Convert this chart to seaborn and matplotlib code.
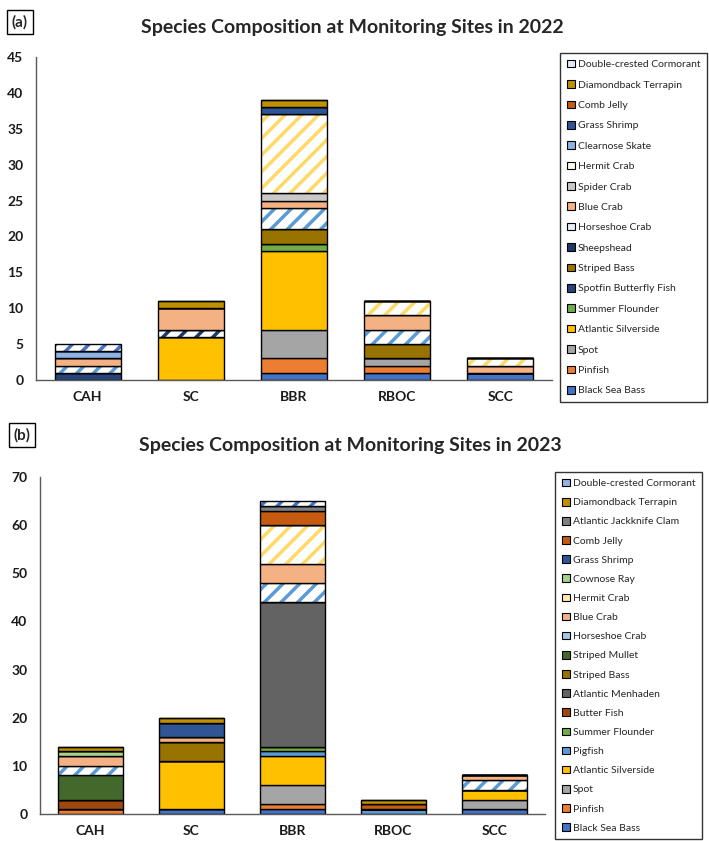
import matplotlib
matplotlib.use("Agg")
import numpy as np
import matplotlib.pyplot as plt
from matplotlib.patches import Patch
from matplotlib.colors import to_rgb
import seaborn as sns

sites = ["CAH", "SC", "BBR", "RBOC", "SCC"]

# 2022 species, bottom of the stack first
species_2022 = ["Black Sea Bass", "Pinfish", "Spot", "Atlantic Silverside", "Summer Flounder",
                "Spotfin Butterfly Fish", "Striped Bass", "Sheepshead", "Horseshoe Crab",
                "Blue Crab", "Spider Crab", "Hermit Crab", "Clearnose Skate", "Grass Shrimp",
                "Comb Jelly", "Diamondback Terrapin", "Double-crested Cormorant"]
cah_2022 = [0, 0, 0, 0, 0, 1, 0, 0, 1, 1, 0, 0, 1, 0, 0, 0, 1]
sc_2022 = [0, 0, 0, 6, 0, 0, 0, 1, 0, 3, 0, 0, 0, 0, 0, 1, 0]
bbr_2022 = [1, 2, 4, 11, 1, 0, 2, 0, 3, 1, 1, 11, 0, 1, 0, 1, 0]
rboc_2022 = [1, 1, 1, 0, 0, 0, 2, 0, 2, 2, 0, 2, 0, 0, 0, 0, 0]
scc_2022 = [1, 0, 0, 0, 0, 0, 0, 0, 0, 1, 0, 1, 0, 0, 0, 0, 0]

# 2023 species, bottom of the stack first
species_2023 = ["Black Sea Bass", "Pinfish", "Spot", "Atlantic Silverside", "Pigfish",
                "Summer Flounder", "Butter Fish", "Atlantic Menhaden", "Striped Bass",
                "Striped Mullet", "Horseshoe Crab", "Blue Crab", "Hermit Crab", "Cownose Ray",
                "Grass Shrimp", "Comb Jelly", "Atlantic Jackknife Clam", "Diamondback Terrapin",
                "Double-crested Cormorant"]
cah_2023 = [0, 1, 0, 0, 0, 0, 2, 0, 0, 5, 2, 2, 0, 1, 0, 0, 0, 1, 0]
sc_2023 = [1, 0, 0, 10, 0, 0, 0, 0, 4, 0, 0, 1, 0, 0, 3, 0, 0, 1, 0]
bbr_2023 = [1, 1, 4, 6, 1, 1, 0, 30, 0, 0, 4, 4, 8, 0, 0, 3, 1, 0, 1]
rboc_2023 = [0, 0, 0, 0, 1, 0, 0, 0, 0, 0, 0, 0, 0, 0, 0, 1, 0, 1, 0]
scc_2023 = [1, 0, 2, 2, 0, 0, 0, 0, 0, 0, 2, 1, 0, 0, 0, 0, 0, 0, 0]

colors = {
    "Black Sea Bass": "#4472C4", "Pinfish": "#ED7D31", "Spot": "#A5A5A5",
    "Atlantic Silverside": "#FFC000", "Summer Flounder": "#70AD47",
    "Spotfin Butterfly Fish": "#264478", "Striped Bass": "#997300",
    "Sheepshead": "#1F3864", "Horseshoe Crab": "#5B9BD5", "Blue Crab": "#F4B183",
    "Spider Crab": "#C9C9C9", "Hermit Crab": "#FFD966", "Clearnose Skate": "#8FB4E3",
    "Grass Shrimp": "#2F5597", "Comb Jelly": "#C55A11", "Diamondback Terrapin": "#BF9000",
    "Double-crested Cormorant": "#4472C4", "Pigfish": "#5B9BD5", "Butter Fish": "#9E480E",
    "Atlantic Menhaden": "#636363", "Striped Mullet": "#43682B", "Cownose Ray": "#A9D18E",
    "Atlantic Jackknife Clam": "#7F7F7F",
}
hatched = ["Sheepshead", "Horseshoe Crab", "Hermit Crab", "Double-crested Cormorant"]

sns.set_style("white")
plt.rcParams["font.family"] = ["Lato", "DejaVu Sans"]
plt.rcParams["hatch.linewidth"] = 2.5

W, H = 709, 841
fig = plt.figure(figsize=(W / 100, H / 100), dpi=100)


def px_axes(left, top, right, bottom):
    return fig.add_axes([left / W, 1 - bottom / H, (right - left) / W, (bottom - top) / H])


def tint(c, f):
    r = np.array(to_rgb(c))
    return tuple(r + (1 - r) * f)


def draw_panel(ax, species, columns, ymax, ystep):
    data = np.array(columns).T
    bottom = np.zeros(len(sites))
    for name, vals in zip(species, data):
        if name in hatched:
            # coloured stripes on white, then a black outline on top
            sns.barplot(x=sites, y=vals, order=sites, bottom=bottom, color="white", saturation=1,
                        width=0.64, hatch="//", edgecolor=colors[name], linewidth=0,
                        errorbar=None, ax=ax)
            sns.barplot(x=sites, y=vals, order=sites, bottom=bottom, color="black", saturation=1,
                        facecolor="none", width=0.64, edgecolor="black", linewidth=1,
                        errorbar=None, ax=ax)
        else:
            sns.barplot(x=sites, y=vals, order=sites, bottom=bottom, color=colors[name],
                        saturation=1, width=0.64, edgecolor="black", linewidth=1,
                        errorbar=None, ax=ax)
        bottom = bottom + vals
    ax.set_xlim(-0.5, len(sites) - 0.5)
    ax.set_ylim(0, ymax)
    ax.set_yticks(np.arange(0, ymax + 1, ystep))
    ax.set_xlabel("")
    ax.set_ylabel("")
    for s in ["top", "right"]:
        ax.spines[s].set_visible(False)
    for s in ["left", "bottom"]:
        ax.spines[s].set_color("#595959")
        ax.spines[s].set_linewidth(1)
    ax.tick_params(axis="both", length=0, labelsize=10, colors="#1a1a1a")
    ax.tick_params(axis="y", pad=9)
    ax.tick_params(axis="x", pad=8)
    for lab in ax.get_xticklabels() + ax.get_yticklabels():
        lab.set_fontweight("bold")


def add_legend(species, left, top, spacing, light):
    handles = []
    for name in species[::-1]:
        face = colors[name]
        if name in hatched and name != "Sheepshead":
            face = tint(colors[name], light)
        handles.append(Patch(facecolor=face, edgecolor="black", linewidth=0.8, label=name))
    leg = fig.legend(handles=handles, loc="upper left", bbox_to_anchor=(left / W, 1 - top / H),
                     frameon=True, fancybox=False, edgecolor="black", fontsize=7.5,
                     handlelength=0.75, handleheight=0.75, handletextpad=0.3,
                     labelspacing=spacing, borderpad=0.65, borderaxespad=0)
    leg.get_frame().set_linewidth(1)


ax1 = px_axes(36, 57, 552, 380)
draw_panel(ax1, species_2022, [cah_2022, sc_2022, bbr_2022, rboc_2022, scc_2022], 45, 5)
add_legend(species_2022, 560, 53, 1.05, 0.85)
fig.text(352 / W, 1 - 27 / H, "Species Composition at Monitoring Sites in 2022",
         ha="center", va="center", fontsize=14, fontweight="bold")
fig.text(20 / W, 1 - 22 / H, "(a)", ha="center", va="center", fontsize=11, fontweight="bold",
         bbox=dict(boxstyle="square,pad=0.3", fc="white", ec="black", lw=1))

ax2 = px_axes(40, 477, 545, 814)
draw_panel(ax2, species_2023, [cah_2023, sc_2023, bbr_2023, rboc_2023, scc_2023], 70, 10)
add_legend(species_2023, 555, 472, 0.93, 0.45)
fig.text(350 / W, 1 - 445 / H, "Species Composition at Monitoring Sites in 2023",
         ha="center", va="center", fontsize=14, fontweight="bold")
fig.text(22 / W, 1 - 435 / H, "(b)", ha="center", va="center", fontsize=11, fontweight="bold",
         bbox=dict(boxstyle="square,pad=0.3", fc="white", ec="black", lw=1))

fig.savefig("out.png", dpi=100)
